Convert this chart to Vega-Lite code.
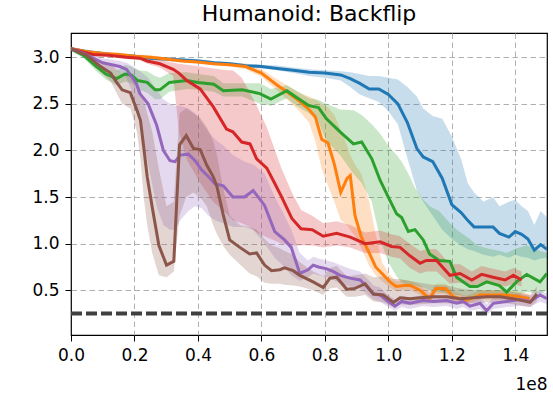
{
  "$schema": "https://vega.github.io/schema/vega-lite/v6.json",
  "autosize": {"type": "none"},
  "padding": {"left": 71, "top": 33, "right": 6, "bottom": 58},
  "width": 476,
  "height": 302,
  "background": "white",
  "title": {"text": "Humanoid: Backflip", "fontSize": 22, "font": "DejaVu Sans", "fontWeight": "normal", "color": "black", "offset": 7, "anchor": "middle"},
  "config": {
    "view": {"stroke": "black", "strokeWidth": 1.2},
    "axis": {"domain": false, "grid": true, "gridColor": "#b0b0b0", "gridDash": [5.5, 3.5], "gridWidth": 1, "gridOpacity": 1, "tickColor": "black", "tickSize": 6, "tickWidth": 1, "labelFont": "DejaVu Sans", "labelFontSize": 17, "labelColor": "black", "labelFlush": false, "labelOverlap": false, "titleFont": "DejaVu Sans", "titleFontSize": 17, "titleFontWeight": "normal", "titleColor": "black"}
  },
  "datasets": {
    "runs": [
      {"s":"blue","x":0,"y":3.09,"lo":3.07,"hi":3.11},
      {"s":"blue","x":5,"y":3.06,"lo":3.04,"hi":3.08},
      {"s":"blue","x":10,"y":3.04,"lo":3.02,"hi":3.06},
      {"s":"blue","x":15,"y":3.02,"lo":3.0,"hi":3.04},
      {"s":"blue","x":20,"y":3.01,"lo":2.99,"hi":3.03},
      {"s":"blue","x":25,"y":2.99,"lo":2.97,"hi":3.01},
      {"s":"blue","x":30,"y":2.98,"lo":2.96,"hi":3.0},
      {"s":"blue","x":35,"y":2.97,"lo":2.95,"hi":2.99},
      {"s":"blue","x":40,"y":2.96,"lo":2.94,"hi":2.98},
      {"s":"blue","x":45,"y":2.94,"lo":2.92,"hi":2.96},
      {"s":"blue","x":50,"y":2.93,"lo":2.91,"hi":2.95},
      {"s":"blue","x":55,"y":2.91,"lo":2.89,"hi":2.93},
      {"s":"blue","x":60,"y":2.9,"lo":2.88,"hi":2.92},
      {"s":"blue","x":65,"y":2.88,"lo":2.86,"hi":2.91},
      {"s":"blue","x":70,"y":2.86,"lo":2.83,"hi":2.89},
      {"s":"blue","x":75,"y":2.84,"lo":2.8,"hi":2.87},
      {"s":"blue","x":80,"y":2.83,"lo":2.78,"hi":2.86},
      {"s":"blue","x":85,"y":2.81,"lo":2.75,"hi":2.85},
      {"s":"blue","x":88,"y":2.77,"lo":2.68,"hi":2.84},
      {"s":"blue","x":91,"y":2.72,"lo":2.6,"hi":2.82},
      {"s":"blue","x":94,"y":2.66,"lo":2.56,"hi":2.8},
      {"s":"blue","x":97,"y":2.66,"lo":2.52,"hi":2.8},
      {"s":"blue","x":100,"y":2.6,"lo":2.42,"hi":2.78},
      {"s":"blue","x":103,"y":2.5,"lo":2.28,"hi":2.76},
      {"s":"blue","x":106,"y":2.3,"lo":1.92,"hi":2.68},
      {"s":"blue","x":109,"y":2.02,"lo":1.57,"hi":2.58},
      {"s":"blue","x":111,"y":1.93,"lo":1.45,"hi":2.45},
      {"s":"blue","x":114,"y":1.88,"lo":1.3,"hi":2.37},
      {"s":"blue","x":117,"y":1.7,"lo":1.15,"hi":2.34},
      {"s":"blue","x":120,"y":1.42,"lo":1.05,"hi":2.15},
      {"s":"blue","x":123,"y":1.33,"lo":0.98,"hi":1.9},
      {"s":"blue","x":125,"y":1.25,"lo":0.94,"hi":1.65},
      {"s":"blue","x":127,"y":1.18,"lo":0.92,"hi":1.55},
      {"s":"blue","x":130,"y":1.18,"lo":0.88,"hi":1.45},
      {"s":"blue","x":133,"y":1.18,"lo":0.86,"hi":1.5},
      {"s":"blue","x":135,"y":1.11,"lo":0.88,"hi":1.4},
      {"s":"blue","x":138,"y":1.07,"lo":0.85,"hi":1.45},
      {"s":"blue","x":140,"y":1.13,"lo":0.88,"hi":1.47},
      {"s":"blue","x":142,"y":1.1,"lo":0.86,"hi":1.4},
      {"s":"blue","x":144,"y":1.05,"lo":0.85,"hi":1.35},
      {"s":"blue","x":146,"y":0.93,"lo":0.82,"hi":1.2},
      {"s":"blue","x":148,"y":0.99,"lo":0.84,"hi":1.35},
      {"s":"blue","x":150,"y":0.94,"lo":0.85,"hi":1.28},

      {"s":"orange","x":0,"y":3.09,"lo":3.07,"hi":3.11},
      {"s":"orange","x":5,"y":3.06,"lo":3.04,"hi":3.08},
      {"s":"orange","x":10,"y":3.04,"lo":3.02,"hi":3.06},
      {"s":"orange","x":15,"y":3.03,"lo":3.01,"hi":3.05},
      {"s":"orange","x":20,"y":3.01,"lo":2.99,"hi":3.03},
      {"s":"orange","x":25,"y":3.0,"lo":2.98,"hi":3.02},
      {"s":"orange","x":30,"y":2.98,"lo":2.96,"hi":3.0},
      {"s":"orange","x":35,"y":2.96,"lo":2.94,"hi":2.98},
      {"s":"orange","x":40,"y":2.95,"lo":2.93,"hi":2.97},
      {"s":"orange","x":45,"y":2.93,"lo":2.91,"hi":2.95},
      {"s":"orange","x":50,"y":2.92,"lo":2.9,"hi":2.94},
      {"s":"orange","x":55,"y":2.9,"lo":2.87,"hi":2.93},
      {"s":"orange","x":60,"y":2.83,"lo":2.79,"hi":2.87},
      {"s":"orange","x":65,"y":2.7,"lo":2.64,"hi":2.76},
      {"s":"orange","x":68,"y":2.63,"lo":2.55,"hi":2.7},
      {"s":"orange","x":72,"y":2.53,"lo":2.42,"hi":2.62},
      {"s":"orange","x":75,"y":2.44,"lo":2.3,"hi":2.58},
      {"s":"orange","x":77,"y":2.36,"lo":2.1,"hi":2.55},
      {"s":"orange","x":79,"y":2.12,"lo":1.8,"hi":2.5},
      {"s":"orange","x":81,"y":2.08,"lo":1.62,"hi":2.46},
      {"s":"orange","x":83,"y":1.85,"lo":1.45,"hi":2.38},
      {"s":"orange","x":85,"y":1.55,"lo":1.25,"hi":2.22},
      {"s":"orange","x":87,"y":1.7,"lo":1.2,"hi":2.05},
      {"s":"orange","x":88,"y":1.73,"lo":1.15,"hi":1.95},
      {"s":"orange","x":89.5,"y":1.3,"lo":1.08,"hi":1.85},
      {"s":"orange","x":91.5,"y":1.07,"lo":0.95,"hi":1.75},
      {"s":"orange","x":94,"y":0.9,"lo":0.76,"hi":1.45},
      {"s":"orange","x":96,"y":0.75,"lo":0.66,"hi":1.1},
      {"s":"orange","x":98,"y":0.68,"lo":0.6,"hi":0.8},
      {"s":"orange","x":100.5,"y":0.59,"lo":0.53,"hi":0.66},
      {"s":"orange","x":102.5,"y":0.54,"lo":0.49,"hi":0.6},
      {"s":"orange","x":105,"y":0.55,"lo":0.5,"hi":0.61},
      {"s":"orange","x":107,"y":0.55,"lo":0.5,"hi":0.6},
      {"s":"orange","x":110,"y":0.5,"lo":0.45,"hi":0.56},
      {"s":"orange","x":113,"y":0.41,"lo":0.37,"hi":0.47},
      {"s":"orange","x":115,"y":0.52,"lo":0.46,"hi":0.57},
      {"s":"orange","x":118,"y":0.52,"lo":0.46,"hi":0.57},
      {"s":"orange","x":120.5,"y":0.43,"lo":0.38,"hi":0.49},
      {"s":"orange","x":124.5,"y":0.39,"lo":0.35,"hi":0.44},
      {"s":"orange","x":129,"y":0.45,"lo":0.4,"hi":0.5},
      {"s":"orange","x":133,"y":0.45,"lo":0.4,"hi":0.5},
      {"s":"orange","x":137,"y":0.45,"lo":0.4,"hi":0.5},
      {"s":"orange","x":141.5,"y":0.43,"lo":0.38,"hi":0.48},
      {"s":"orange","x":144.5,"y":0.41,"lo":0.37,"hi":0.46},

      {"s":"green","x":0,"y":3.09,"lo":3.07,"hi":3.11},
      {"s":"green","x":4,"y":3.02,"lo":2.99,"hi":3.05},
      {"s":"green","x":8,"y":2.9,"lo":2.85,"hi":2.95},
      {"s":"green","x":11,"y":2.82,"lo":2.76,"hi":2.88},
      {"s":"green","x":14.4,"y":2.77,"lo":2.7,"hi":2.85},
      {"s":"green","x":17,"y":2.82,"lo":2.74,"hi":2.92},
      {"s":"green","x":19,"y":2.81,"lo":2.72,"hi":2.9},
      {"s":"green","x":21,"y":2.75,"lo":2.66,"hi":2.86},
      {"s":"green","x":24,"y":2.73,"lo":2.62,"hi":2.85},
      {"s":"green","x":26.5,"y":2.65,"lo":2.55,"hi":2.8},
      {"s":"green","x":28,"y":2.65,"lo":2.55,"hi":2.78},
      {"s":"green","x":31,"y":2.73,"lo":2.63,"hi":2.83},
      {"s":"green","x":36.5,"y":2.75,"lo":2.66,"hi":2.84},
      {"s":"green","x":40,"y":2.73,"lo":2.65,"hi":2.82},
      {"s":"green","x":45,"y":2.71,"lo":2.63,"hi":2.8},
      {"s":"green","x":48,"y":2.64,"lo":2.58,"hi":2.72},
      {"s":"green","x":54,"y":2.65,"lo":2.58,"hi":2.72},
      {"s":"green","x":59.5,"y":2.61,"lo":2.5,"hi":2.72},
      {"s":"green","x":63,"y":2.55,"lo":2.48,"hi":2.66},
      {"s":"green","x":68,"y":2.64,"lo":2.56,"hi":2.7},
      {"s":"green","x":71,"y":2.57,"lo":2.48,"hi":2.64},
      {"s":"green","x":75,"y":2.48,"lo":2.4,"hi":2.56},
      {"s":"green","x":78,"y":2.46,"lo":2.3,"hi":2.54},
      {"s":"green","x":80.5,"y":2.34,"lo":2.1,"hi":2.5},
      {"s":"green","x":84.8,"y":2.2,"lo":1.95,"hi":2.44},
      {"s":"green","x":89,"y":2.07,"lo":1.75,"hi":2.43},
      {"s":"green","x":91.6,"y":2.09,"lo":1.65,"hi":2.38},
      {"s":"green","x":94.8,"y":1.91,"lo":1.45,"hi":2.28},
      {"s":"green","x":97.4,"y":1.68,"lo":1.05,"hi":2.18},
      {"s":"green","x":100,"y":1.5,"lo":0.8,"hi":2.05},
      {"s":"green","x":102.6,"y":1.32,"lo":0.65,"hi":1.95},
      {"s":"green","x":104.2,"y":1.28,"lo":0.58,"hi":1.88},
      {"s":"green","x":106.3,"y":1.13,"lo":0.56,"hi":1.75},
      {"s":"green","x":108.4,"y":1.15,"lo":0.55,"hi":1.6},
      {"s":"green","x":111,"y":1.04,"lo":0.53,"hi":1.47},
      {"s":"green","x":113,"y":0.89,"lo":0.5,"hi":1.4},
      {"s":"green","x":116,"y":0.82,"lo":0.48,"hi":1.35},
      {"s":"green","x":119.4,"y":0.81,"lo":0.46,"hi":1.22},
      {"s":"green","x":121.5,"y":0.64,"lo":0.45,"hi":1.15},
      {"s":"green","x":125.7,"y":0.54,"lo":0.43,"hi":1.05},
      {"s":"green","x":128,"y":0.54,"lo":0.43,"hi":0.98},
      {"s":"green","x":131,"y":0.59,"lo":0.44,"hi":0.95},
      {"s":"green","x":135,"y":0.55,"lo":0.43,"hi":0.92},
      {"s":"green","x":137.3,"y":0.48,"lo":0.4,"hi":0.9},
      {"s":"green","x":140.4,"y":0.59,"lo":0.44,"hi":0.95},
      {"s":"green","x":143.6,"y":0.67,"lo":0.48,"hi":0.98},
      {"s":"green","x":147.8,"y":0.59,"lo":0.46,"hi":0.92},
      {"s":"green","x":150,"y":0.68,"lo":0.5,"hi":0.9},

      {"s":"red","x":0,"y":3.09,"lo":3.07,"hi":3.11},
      {"s":"red","x":7,"y":3.03,"lo":3.01,"hi":3.05},
      {"s":"red","x":12,"y":3.02,"lo":3.0,"hi":3.04},
      {"s":"red","x":17.5,"y":3.0,"lo":2.98,"hi":3.02},
      {"s":"red","x":21.7,"y":2.99,"lo":2.97,"hi":3.01},
      {"s":"red","x":24,"y":2.96,"lo":2.93,"hi":2.99},
      {"s":"red","x":28,"y":2.93,"lo":2.89,"hi":2.97},
      {"s":"red","x":32.2,"y":2.87,"lo":2.8,"hi":2.94},
      {"s":"red","x":34,"y":2.83,"lo":2.2,"hi":2.93},
      {"s":"red","x":36.5,"y":2.75,"lo":1.9,"hi":2.92},
      {"s":"red","x":40.7,"y":2.66,"lo":1.65,"hi":2.9},
      {"s":"red","x":44.8,"y":2.47,"lo":1.45,"hi":2.88},
      {"s":"red","x":49,"y":2.23,"lo":1.32,"hi":2.86},
      {"s":"red","x":51,"y":2.2,"lo":1.25,"hi":2.86},
      {"s":"red","x":53.8,"y":2.09,"lo":1.22,"hi":2.78},
      {"s":"red","x":56.4,"y":2.07,"lo":1.18,"hi":2.62},
      {"s":"red","x":58.5,"y":1.91,"lo":1.12,"hi":2.48},
      {"s":"red","x":61.7,"y":1.81,"lo":1.07,"hi":2.25},
      {"s":"red","x":64.3,"y":1.64,"lo":1.03,"hi":2.0},
      {"s":"red","x":66.4,"y":1.5,"lo":1.0,"hi":1.8},
      {"s":"red","x":69.6,"y":1.27,"lo":0.98,"hi":1.55},
      {"s":"red","x":72.5,"y":1.16,"lo":0.98,"hi":1.36},
      {"s":"red","x":76,"y":1.15,"lo":0.98,"hi":1.3},
      {"s":"red","x":79.5,"y":1.08,"lo":0.96,"hi":1.22},
      {"s":"red","x":83.7,"y":1.11,"lo":0.98,"hi":1.24},
      {"s":"red","x":88,"y":1.07,"lo":0.96,"hi":1.2},
      {"s":"red","x":92.7,"y":1.0,"lo":0.9,"hi":1.12},
      {"s":"red","x":97.4,"y":1.02,"lo":0.9,"hi":1.14},
      {"s":"red","x":101,"y":0.97,"lo":0.86,"hi":1.1},
      {"s":"red","x":103.7,"y":0.96,"lo":0.84,"hi":1.08},
      {"s":"red","x":106.8,"y":0.87,"lo":0.74,"hi":1.0},
      {"s":"red","x":110,"y":0.79,"lo":0.68,"hi":0.92},
      {"s":"red","x":112,"y":0.82,"lo":0.7,"hi":0.94},
      {"s":"red","x":115.2,"y":0.82,"lo":0.7,"hi":0.94},
      {"s":"red","x":119.4,"y":0.66,"lo":0.57,"hi":0.78},
      {"s":"red","x":122.6,"y":0.68,"lo":0.58,"hi":0.78},
      {"s":"red","x":126.3,"y":0.61,"lo":0.54,"hi":0.7},
      {"s":"red","x":129.4,"y":0.67,"lo":0.58,"hi":0.76},
      {"s":"red","x":133,"y":0.64,"lo":0.56,"hi":0.73},
      {"s":"red","x":136.8,"y":0.61,"lo":0.54,"hi":0.7},
      {"s":"red","x":139.4,"y":0.66,"lo":0.57,"hi":0.74},
      {"s":"red","x":142,"y":0.61,"lo":0.54,"hi":0.7},

      {"s":"purple","x":0,"y":3.09,"lo":3.07,"hi":3.11},
      {"s":"purple","x":4,"y":3.04,"lo":3.01,"hi":3.07},
      {"s":"purple","x":7,"y":2.99,"lo":2.95,"hi":3.03},
      {"s":"purple","x":10,"y":2.94,"lo":2.89,"hi":2.99},
      {"s":"purple","x":15.4,"y":2.9,"lo":2.84,"hi":2.96},
      {"s":"purple","x":17.5,"y":2.87,"lo":2.78,"hi":2.94},
      {"s":"purple","x":20.6,"y":2.72,"lo":2.5,"hi":2.88},
      {"s":"purple","x":21.7,"y":2.61,"lo":2.3,"hi":2.85},
      {"s":"purple","x":24.3,"y":2.5,"lo":1.85,"hi":2.78},
      {"s":"purple","x":27,"y":2.27,"lo":1.4,"hi":2.65},
      {"s":"purple","x":29.1,"y":2.0,"lo":1.2,"hi":2.55},
      {"s":"purple","x":31.2,"y":1.89,"lo":1.15,"hi":2.5},
      {"s":"purple","x":32.8,"y":1.88,"lo":1.15,"hi":2.48},
      {"s":"purple","x":34.4,"y":1.95,"lo":1.25,"hi":2.48},
      {"s":"purple","x":37,"y":1.96,"lo":1.35,"hi":2.45},
      {"s":"purple","x":39.1,"y":1.89,"lo":1.4,"hi":2.4},
      {"s":"purple","x":41.2,"y":1.79,"lo":1.38,"hi":2.3},
      {"s":"purple","x":43.3,"y":1.72,"lo":1.3,"hi":2.2},
      {"s":"purple","x":45.4,"y":1.64,"lo":1.25,"hi":2.12},
      {"s":"purple","x":48,"y":1.62,"lo":1.22,"hi":2.05},
      {"s":"purple","x":51,"y":1.5,"lo":1.18,"hi":1.95},
      {"s":"purple","x":54.7,"y":1.5,"lo":1.18,"hi":1.88},
      {"s":"purple","x":57.4,"y":1.57,"lo":1.15,"hi":1.85},
      {"s":"purple","x":61,"y":1.41,"lo":1.0,"hi":1.75},
      {"s":"purple","x":64.2,"y":1.13,"lo":0.85,"hi":1.5},
      {"s":"purple","x":67.3,"y":1.04,"lo":0.75,"hi":1.3},
      {"s":"purple","x":69.4,"y":0.96,"lo":0.66,"hi":1.15},
      {"s":"purple","x":72.1,"y":0.68,"lo":0.6,"hi":0.9},
      {"s":"purple","x":74.7,"y":0.72,"lo":0.64,"hi":0.82},
      {"s":"purple","x":76.3,"y":0.77,"lo":0.68,"hi":0.86},
      {"s":"purple","x":78,"y":0.75,"lo":0.66,"hi":0.84},
      {"s":"purple","x":80.6,"y":0.73,"lo":0.64,"hi":0.82},
      {"s":"purple","x":82.7,"y":0.7,"lo":0.61,"hi":0.8},
      {"s":"purple","x":84.8,"y":0.66,"lo":0.57,"hi":0.77},
      {"s":"purple","x":87.9,"y":0.63,"lo":0.54,"hi":0.73},
      {"s":"purple","x":91.1,"y":0.61,"lo":0.52,"hi":0.7},
      {"s":"purple","x":93.2,"y":0.54,"lo":0.46,"hi":0.63},
      {"s":"purple","x":95.3,"y":0.46,"lo":0.4,"hi":0.55},
      {"s":"purple","x":97.4,"y":0.45,"lo":0.38,"hi":0.53},
      {"s":"purple","x":99.5,"y":0.39,"lo":0.33,"hi":0.46},
      {"s":"purple","x":102.1,"y":0.33,"lo":0.28,"hi":0.4},
      {"s":"purple","x":104.2,"y":0.38,"lo":0.32,"hi":0.44},
      {"s":"purple","x":106.8,"y":0.36,"lo":0.3,"hi":0.42},
      {"s":"purple","x":111,"y":0.39,"lo":0.33,"hi":0.45},
      {"s":"purple","x":114.2,"y":0.38,"lo":0.32,"hi":0.44},
      {"s":"purple","x":118.4,"y":0.39,"lo":0.33,"hi":0.45},
      {"s":"purple","x":121.5,"y":0.36,"lo":0.3,"hi":0.42},
      {"s":"purple","x":123.6,"y":0.38,"lo":0.32,"hi":0.44},
      {"s":"purple","x":125.7,"y":0.33,"lo":0.28,"hi":0.39},
      {"s":"purple","x":128.9,"y":0.36,"lo":0.3,"hi":0.42},
      {"s":"purple","x":131,"y":0.28,"lo":0.23,"hi":0.35},
      {"s":"purple","x":133.1,"y":0.36,"lo":0.3,"hi":0.42},
      {"s":"purple","x":137.3,"y":0.38,"lo":0.32,"hi":0.44},
      {"s":"purple","x":141.5,"y":0.4,"lo":0.33,"hi":0.46},
      {"s":"purple","x":144.7,"y":0.38,"lo":0.32,"hi":0.44},
      {"s":"purple","x":147.8,"y":0.45,"lo":0.38,"hi":0.5},
      {"s":"purple","x":150,"y":0.41,"lo":0.35,"hi":0.46},

      {"s":"brown","x":0,"y":3.09,"lo":3.07,"hi":3.11},
      {"s":"brown","x":5,"y":3.02,"lo":2.98,"hi":3.06},
      {"s":"brown","x":9.3,"y":2.9,"lo":2.84,"hi":2.96},
      {"s":"brown","x":12.5,"y":2.83,"lo":2.74,"hi":2.92},
      {"s":"brown","x":14,"y":2.75,"lo":2.64,"hi":2.88},
      {"s":"brown","x":16.1,"y":2.65,"lo":2.5,"hi":2.82},
      {"s":"brown","x":18.7,"y":2.62,"lo":2.45,"hi":2.8},
      {"s":"brown","x":20.8,"y":2.43,"lo":2.2,"hi":2.7},
      {"s":"brown","x":21.9,"y":2.32,"lo":1.9,"hi":2.65},
      {"s":"brown","x":22.9,"y":2.04,"lo":1.5,"hi":2.55},
      {"s":"brown","x":24,"y":1.72,"lo":1.2,"hi":2.4},
      {"s":"brown","x":25.6,"y":1.39,"lo":0.9,"hi":2.2},
      {"s":"brown","x":27.7,"y":0.98,"lo":0.66,"hi":1.8},
      {"s":"brown","x":30.1,"y":0.77,"lo":0.64,"hi":1.4},
      {"s":"brown","x":32.4,"y":0.81,"lo":0.7,"hi":1.45},
      {"s":"brown","x":34.2,"y":2.06,"lo":1.3,"hi":2.4},
      {"s":"brown","x":36.3,"y":2.16,"lo":1.5,"hi":2.45},
      {"s":"brown","x":38.6,"y":2.02,"lo":1.55,"hi":2.4},
      {"s":"brown","x":40.7,"y":2.01,"lo":1.5,"hi":2.35},
      {"s":"brown","x":42.8,"y":1.84,"lo":1.4,"hi":2.25},
      {"s":"brown","x":44.8,"y":1.72,"lo":1.2,"hi":2.1},
      {"s":"brown","x":46,"y":1.61,"lo":1.1,"hi":1.95},
      {"s":"brown","x":47.9,"y":1.32,"lo":0.98,"hi":1.6},
      {"s":"brown","x":50,"y":1.04,"lo":0.88,"hi":1.3},
      {"s":"brown","x":53.2,"y":0.96,"lo":0.78,"hi":1.2},
      {"s":"brown","x":56.3,"y":0.89,"lo":0.68,"hi":1.18},
      {"s":"brown","x":58.5,"y":0.9,"lo":0.65,"hi":1.15},
      {"s":"brown","x":61,"y":0.77,"lo":0.58,"hi":1.05},
      {"s":"brown","x":63.2,"y":0.71,"lo":0.57,"hi":0.98},
      {"s":"brown","x":65.8,"y":0.72,"lo":0.57,"hi":0.95},
      {"s":"brown","x":67.3,"y":0.74,"lo":0.56,"hi":0.92},
      {"s":"brown","x":70,"y":0.71,"lo":0.55,"hi":0.88},
      {"s":"brown","x":72.1,"y":0.66,"lo":0.54,"hi":0.8},
      {"s":"brown","x":76.3,"y":0.59,"lo":0.5,"hi":0.7},
      {"s":"brown","x":79.5,"y":0.53,"lo":0.45,"hi":0.65},
      {"s":"brown","x":81.6,"y":0.63,"lo":0.52,"hi":0.74},
      {"s":"brown","x":83.7,"y":0.64,"lo":0.53,"hi":0.76},
      {"s":"brown","x":86.9,"y":0.51,"lo":0.43,"hi":0.65},
      {"s":"brown","x":89.5,"y":0.52,"lo":0.43,"hi":0.66},
      {"s":"brown","x":92.7,"y":0.57,"lo":0.45,"hi":0.68},
      {"s":"brown","x":95.3,"y":0.46,"lo":0.38,"hi":0.64},
      {"s":"brown","x":98.4,"y":0.45,"lo":0.37,"hi":0.65},
      {"s":"brown","x":101.6,"y":0.37,"lo":0.32,"hi":0.62},
      {"s":"brown","x":103.7,"y":0.42,"lo":0.35,"hi":0.62},
      {"s":"brown","x":106.8,"y":0.41,"lo":0.34,"hi":0.6},
      {"s":"brown","x":110,"y":0.42,"lo":0.35,"hi":0.58},
      {"s":"brown","x":114.2,"y":0.43,"lo":0.36,"hi":0.56},
      {"s":"brown","x":118.4,"y":0.43,"lo":0.36,"hi":0.55},
      {"s":"brown","x":122.6,"y":0.41,"lo":0.35,"hi":0.52},
      {"s":"brown","x":126.8,"y":0.42,"lo":0.36,"hi":0.5},
      {"s":"brown","x":131,"y":0.43,"lo":0.37,"hi":0.5},
      {"s":"brown","x":135.2,"y":0.43,"lo":0.37,"hi":0.5},
      {"s":"brown","x":139.4,"y":0.41,"lo":0.35,"hi":0.48},
      {"s":"brown","x":144.7,"y":0.37,"lo":0.32,"hi":0.45},
      {"s":"brown","x":146.8,"y":0.46,"lo":0.38,"hi":0.54}
    ],
    "target": [{"v": 0.25}]
  },
  "layer": [
    {
      "data": {"name": "runs"},
      "mark": {"type": "area", "opacity": 0.25, "clip": true},
      "encoding": {
        "x": {"field": "x", "type": "quantitative", "scale": {"domain": [0, 150], "nice": false, "zero": false},
              "axis": {"values": [0, 20, 40, 60, 80, 100, 120, 140], "labelExpr": "format(datum.value / 100, '.1f')", "labelPadding": 6,
                       "gridOpacity": {"condition": {"test": "datum.value === 0", "value": 0}, "value": 1},
                       "title": "1e8", "titleAnchor": "end", "titleAlign": "right", "titlePadding": 13}},
        "y": {"field": "lo", "type": "quantitative", "scale": {"domain": [0.02, 3.26], "nice": false, "zero": false},
              "axis": {"values": [0.5, 1.0, 1.5, 2.0, 2.5, 3.0], "format": ".1f", "labelPadding": 6, "title": null}},
        "y2": {"field": "hi"},
        "color": {"field": "s", "type": "nominal", "legend": null,
                  "scale": {"domain": ["blue", "orange", "green", "red", "purple", "brown"], "range": ["#1f77b4", "#ff7f0e", "#2ca02c", "#d62728", "#9467bd", "#8c564b"]}}
      }
    },
    {
      "data": {"name": "runs"},
      "mark": {"type": "line", "strokeWidth": 3, "clip": true},
      "encoding": {
        "x": {"field": "x", "type": "quantitative"},
        "y": {"field": "y", "type": "quantitative"},
        "color": {"field": "s", "type": "nominal", "legend": null}
      }
    },
    {
      "data": {"name": "target"},
      "mark": {"type": "rule", "color": "#404040", "strokeWidth": 4, "strokeDash": [11, 4]},
      "encoding": {"y": {"field": "v", "type": "quantitative"}}
    }
  ]
}
